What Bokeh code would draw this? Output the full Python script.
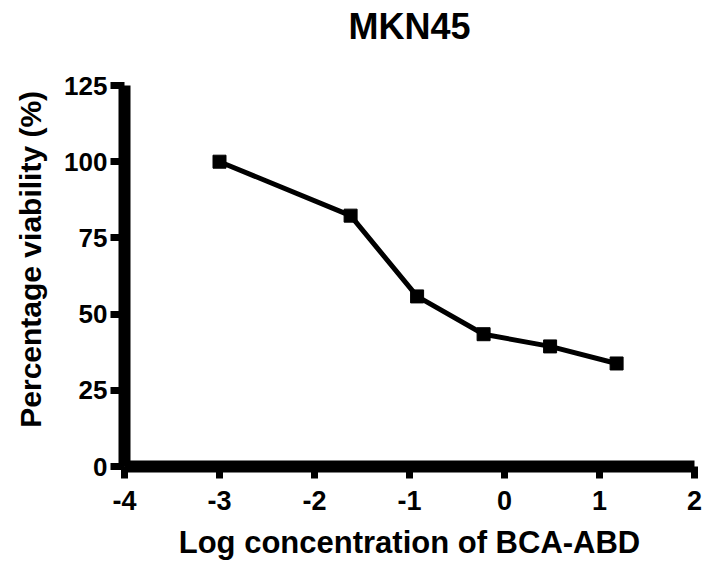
from bokeh.plotting import figure
from bokeh.models import Range1d, FixedTicker, LinearAxis, ColumnDataSource
from bokeh.embed import file_html
from bokeh.resources import INLINE

# Data
log_conc = [-3.0, -1.62, -0.92, -0.22, 0.48, 1.18]
viability = [100.0, 82.3, 55.8, 43.4, 39.4, 33.8]
x_ticks = [-4, -3, -2, -1, 0, 1, 2]
y_ticks = [0, 25, 50, 75, 100, 125]

TITLE = "MKN45"
X_LABEL = "Log concentration of BCA-ABD"
Y_LABEL = "Percentage viability (%)"

FONT = "Liberation Sans"

src = ColumnDataSource(dict(x=log_conc, y=viability))

p = figure(width=709, height=562, output_backend="svg", toolbar_location=None,
           x_range=Range1d(-4, 2), y_range=Range1d(0, 125),
           min_border_left=124, min_border_right=15, min_border_top=85, min_border_bottom=96)

p.line("x", "y", source=src, line_width=5, line_color="black")
p.scatter("x", "y", source=src, marker="square", size=13, fill_color="black", line_color="black")

p.grid.visible = False
p.outline_line_color = None
p.background_fill_color = "white"
p.border_fill_color = "white"
p.title.text = ""

for ax in (p.xaxis[0], p.yaxis[0]):
    ax.axis_line_width = 12
    ax.axis_line_color = "black"
    ax.major_tick_line_width = 7
    ax.major_tick_line_color = "black"
    ax.major_tick_in = 0
    ax.minor_tick_line_color = None
    ax.major_label_text_font = FONT
    ax.major_label_text_font_style = "bold"
    ax.major_label_text_color = "black"
    ax.axis_label_text_font = FONT
    ax.axis_label_text_font_style = "bold"
    ax.axis_label_text_color = "black"

xa = p.xaxis[0]
xa.ticker = FixedTicker(ticks=x_ticks)
xa.major_label_overrides = {t: str(t) for t in x_ticks}
xa.major_tick_out = 12
xa.major_label_standoff = 12
xa.major_label_text_font_size = "27px"
xa.axis_label = X_LABEL
xa.axis_label_text_font_size = "31px"
xa.axis_label_standoff = 12

ya = p.yaxis[0]
ya.ticker = FixedTicker(ticks=y_ticks)
ya.major_tick_out = 14
ya.major_label_standoff = 3
ya.major_label_text_font_size = "26px"
ya.axis_label = "\u00a0" * 4 + Y_LABEL
ya.axis_label_text_font_size = "30px"
ya.axis_label_standoff = 14

# chart title carried by a tick-less axis above the frame
top = LinearAxis(ticker=FixedTicker(ticks=[]), axis_line_color=None,
                 major_tick_line_color=None, minor_tick_line_color=None,
                 axis_label=TITLE, axis_label_standoff=39,
                 axis_label_text_font=FONT, axis_label_text_font_size="36px",
                 axis_label_text_font_style="bold", axis_label_text_color="black")
p.add_layout(top, "above")

open("out.html", "w").write(file_html(p, INLINE))
